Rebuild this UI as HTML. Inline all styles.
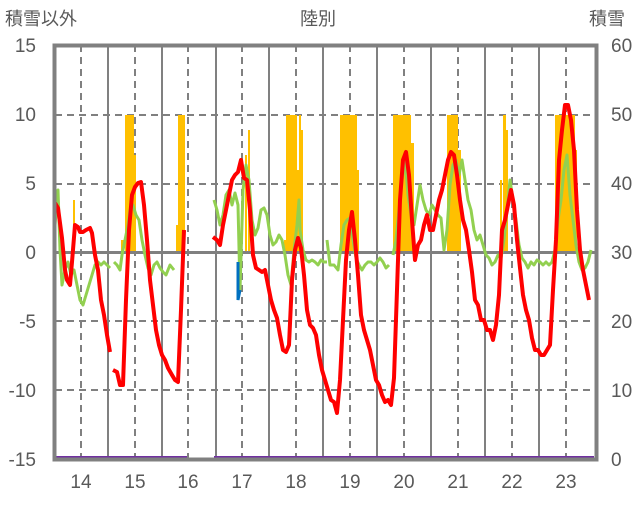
<!DOCTYPE html>
<html><head><meta charset="utf-8"><style>
body{margin:0;background:#fff}
svg text{font-family:"Liberation Sans","Noto Sans CJK JP",sans-serif;fill:#595959}
</style></head><body>
<svg width="636" height="501" viewBox="0 0 636 501" xmlns="http://www.w3.org/2000/svg">
<g stroke="#808080" stroke-width="2" stroke-dasharray="7,5">
<line x1="55" y1="115" x2="596" y2="115"/><line x1="55" y1="184" x2="596" y2="184"/>
<line x1="55" y1="321" x2="596" y2="321"/><line x1="55" y1="390" x2="596" y2="390"/>
<line x1="81" y1="45" x2="81" y2="460"/><line x1="135" y1="45" x2="135" y2="460"/>
<line x1="188" y1="45" x2="188" y2="460"/><line x1="242" y1="45" x2="242" y2="460"/>
<line x1="296" y1="45" x2="296" y2="460"/><line x1="350" y1="45" x2="350" y2="460"/>
<line x1="404" y1="45" x2="404" y2="460"/><line x1="458" y1="45" x2="458" y2="460"/>
<line x1="512" y1="45" x2="512" y2="460"/><line x1="566" y1="45" x2="566" y2="460"/>
</g>
<g stroke="#808080" stroke-width="2">
<line x1="108" y1="45" x2="108" y2="460"/><line x1="162" y1="45" x2="162" y2="460"/>
<line x1="216" y1="45" x2="216" y2="460"/><line x1="269" y1="45" x2="269" y2="460"/>
<line x1="323" y1="45" x2="323" y2="460"/><line x1="377" y1="45" x2="377" y2="460"/>
<line x1="431" y1="45" x2="431" y2="460"/><line x1="485" y1="45" x2="485" y2="460"/>
<line x1="539" y1="45" x2="539" y2="460"/>
</g>
<g fill="#FFC000">
<rect x="73" y="200" width="2" height="52"/>
<rect x="121" y="240" width="3" height="12"/><rect x="125" y="115" width="9" height="137"/><rect x="134" y="155" width="2" height="97"/>
<rect x="176" y="225" width="2" height="27"/><rect x="178" y="115" width="7" height="137"/>
<rect x="245" y="155" width="2" height="97"/><rect x="248" y="130" width="2" height="122"/>
<rect x="284" y="240" width="2" height="12"/><rect x="286" y="115" width="11" height="137"/><rect x="297" y="170" width="2" height="82"/><rect x="299" y="115" width="2" height="137"/><rect x="301" y="130" width="2" height="122"/>
<rect x="340" y="115" width="17" height="137"/><rect x="357" y="170" width="2" height="82"/>
<rect x="393" y="115" width="18" height="137"/><rect x="411" y="143" width="3" height="109"/>
<rect x="447" y="115" width="11" height="137"/><rect x="458" y="150" width="3" height="102"/>
<rect x="500" y="180" width="2" height="72"/><rect x="503" y="115" width="3" height="137"/><rect x="506" y="130" width="2" height="122"/>
<rect x="555" y="115" width="20" height="137"/><rect x="575" y="150" width="2" height="102"/>
</g>
<line x1="55" y1="252.5" x2="596" y2="252.5" stroke="#808080" stroke-width="3"/>
<g fill="none" stroke="#92D050" stroke-width="3" stroke-linejoin="round">
<polyline points="55,225 58,190 60,250 62,285 65,270 68,262 71,275 74,270 77,285 80,300 83,305 86,295 89,285 92,275 95,265 98,262 101,265 104,262 107,265 110,268"/>
<polyline points="114,262 117,265 120,270 122,255 125,240 128,225 130,210 133,205 136,215 139,220 142,240 145,255 148,268 151,275 154,265 157,262 160,268 163,272 166,275 170,265 174,270"/>
<polyline points="214,200 217,210 220,225 223,215 226,195 229,190 232,205 235,193 238,205 240,290 243,190 246,165 249,180 252,220 255,235 258,228 261,210 264,208 267,215 270,235 273,245 276,242 279,235 282,240 285,255 288,275 291,285 294,250 297,225 299,200 300,230 303,250 306,260 309,262 312,260 315,262 318,265 321,260 324,262 327,262"/>
<polyline points="327,240 330,265 334,265 338,270 341,245 344,225 347,220 350,218 353,240 356,258 359,265 362,270 365,265 368,262 371,262 374,265 377,262 380,258 383,262 386,268 389,265"/>
<polyline points="393,255 396,240 399,210 402,180 405,160 408,195 411,215 414,225 417,205 420,185 423,200 426,210 429,215 432,205 435,210 438,215 441,218 444,250 447,230 450,185 453,165 456,160 459,175 462,160 465,180 468,200 471,210 474,230 477,240 480,235 483,245 486,255 489,258 492,265 495,262 498,255 501,258 504,240 507,210 510,180 513,200 516,220 519,245 522,258 525,262 528,268 531,262 534,265 537,260 540,262 543,265 546,262 549,265 552,262 555,250 558,220 561,200 564,170 567,155 570,195 573,220 576,245 579,262 582,270 585,268 588,262 591,250"/>
</g>
<polyline points="238,262 238,300 240,290" fill="none" stroke="#0070C0" stroke-width="3"/>
<g fill="none" stroke="#FF0000" stroke-width="4" stroke-linejoin="round">
<polyline points="55,203 58,208 62,238 65,270 67,280 70,285 72,262 75,225 78,227 80,232 83,232 86,230 90,228 92,233 95,255 98,270 101,300 104,315 107,335 110,352"/>
<polyline points="113,370 117,372 120,385 123,385 126,300 129,230 132,195 135,187 138,183 141,182 144,205 147,240 150,280 153,305 156,330 159,345 162,355 165,360 168,368 172,375 175,380 178,382 181,310 184,230"/>
<polyline points="213,237 217,240 220,245 223,225 226,210 229,195 232,180 235,175 238,172 241,160 244,178 247,180 250,210 253,255 256,268 259,270 262,272 265,270 268,285 271,300 274,310 277,318 280,335 283,350 286,352 289,345 292,280 295,250 298,238 301,248 304,275 307,310 310,325 313,328 316,335 319,355 322,370 325,380 328,390 331,400 334,402 337,413 340,380 343,320 346,260 349,230 352,212 355,240 358,275 361,315 364,330 367,340 370,350 373,365 376,380 379,385 382,395 385,402 388,400 391,405 394,378 397,290 400,200 403,160 406,152 409,175 412,220 415,260 418,245 421,240 424,225 427,215 430,230 433,230 436,215 439,200 442,190 445,175 448,160 451,152 454,155 457,175 460,200 463,220 466,230 469,250 472,272 475,300 478,305 481,320 484,320 487,330 490,330 493,340 496,325 499,295 502,230 505,220 508,205 511,190 514,205 517,240 520,268 523,295 526,310 529,320 532,338 535,350 538,350 541,355 544,355 547,350 550,345 553,290 556,240 559,160 562,130 565,105 568,105 571,120 574,150 577,210 580,250 583,270 586,285 589,300"/>
</g>
<g stroke="#7030A0" stroke-width="4"><line x1="55" y1="458" x2="187" y2="458"/><line x1="214" y1="458" x2="594" y2="458"/></g>
<rect x="54.5" y="45.5" width="542" height="414" fill="none" stroke="#808080" stroke-width="4"/>
<g font-size="19" text-anchor="end">
<text x="36" y="52">15</text><text x="36" y="121">10</text><text x="36" y="190">5</text>
<text x="36" y="259">0</text><text x="36" y="328">-5</text><text x="36" y="397">-10</text><text x="36" y="466">-15</text>
</g>
<g font-size="19" text-anchor="start">
<text x="611" y="52">60</text><text x="611" y="121">50</text><text x="611" y="190">40</text>
<text x="611" y="259">30</text><text x="611" y="328">20</text><text x="611" y="397">10</text><text x="611" y="466">0</text>
</g>
<g font-size="19" text-anchor="middle">
<text x="81" y="488">14</text><text x="135" y="488">15</text><text x="188" y="488">16</text><text x="242" y="488">17</text>
<text x="296" y="488">18</text><text x="350" y="488">19</text><text x="404" y="488">20</text><text x="458" y="488">21</text>
<text x="512" y="488">22</text><text x="566" y="488">23</text>
</g>
<text x="5" y="25" font-size="18">積雪以外</text>
<text x="318" y="25" font-size="18" text-anchor="middle">陸別</text>
<text x="589" y="25" font-size="18">積雪</text>
</svg>
</body></html>
